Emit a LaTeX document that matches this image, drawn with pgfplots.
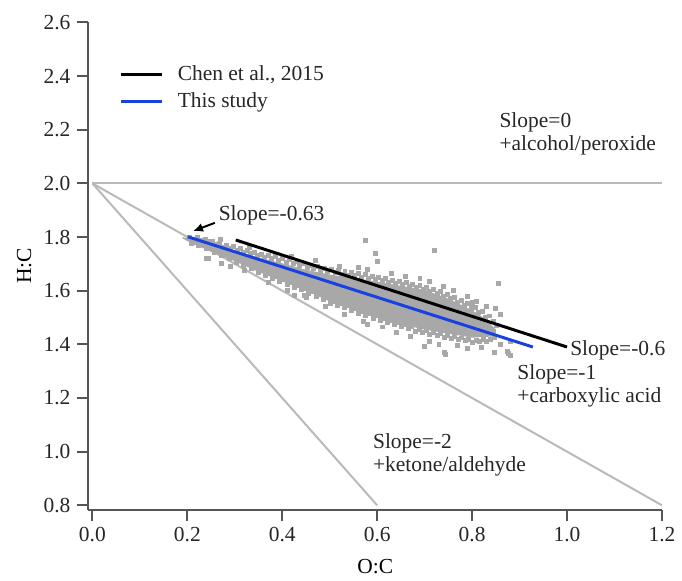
\documentclass[border=0pt]{standalone}
\usepackage{fontspec}
\setmainfont{Liberation Serif}
\usepackage{pgfplots}
\pgfplotsset{compat=1.18}
\usetikzlibrary{arrows.meta}

\definecolor{guide}{RGB}{185,185,185}
\definecolor{cloud}{RGB}{168,168,168}
\definecolor{studyblue}{RGB}{25,65,225}
\definecolor{axgray}{RGB}{85,85,85}

% dense core of the O:C - H:C cloud (outline)
\pgfplotstableread{
x y
0.190 1.800
0.250 1.772
0.300 1.746
0.350 1.724
0.400 1.702
0.450 1.678
0.500 1.660
0.550 1.648
0.600 1.633
0.650 1.618
0.700 1.603
0.750 1.570
0.800 1.527
0.830 1.492
0.850 1.455
0.850 1.430
0.800 1.425
0.750 1.440
0.700 1.455
0.650 1.475
0.600 1.500
0.550 1.530
0.500 1.560
0.450 1.600
0.400 1.635
0.350 1.670
0.300 1.710
0.250 1.745
0.200 1.785
0.190 1.795
}\coretab

% individual points
\pgfplotstableread{
x y
0.205 1.800
0.215 1.792
0.222 1.798
0.231 1.787
0.238 1.793
0.246 1.782
0.252 1.785
0.261 1.772
0.268 1.778
0.276 1.763
0.283 1.770
0.291 1.759
0.297 1.765
0.305 1.751
0.312 1.757
0.318 1.742
0.326 1.750
0.333 1.738
0.341 1.744
0.347 1.731
0.356 1.737
0.362 1.726
0.371 1.732
0.378 1.720
0.386 1.727
0.392 1.712
0.401 1.719
0.408 1.707
0.415 1.715
0.423 1.700
0.431 1.708
0.437 1.693
0.446 1.700
0.452 1.688
0.459 1.695
0.466 1.682
0.474 1.689
0.481 1.676
0.489 1.684
0.495 1.672
0.503 1.679
0.511 1.668
0.518 1.676
0.524 1.662
0.532 1.671
0.539 1.658
0.546 1.667
0.553 1.656
0.561 1.664
0.567 1.651
0.575 1.660
0.582 1.647
0.589 1.655
0.596 1.642
0.603 1.651
0.611 1.638
0.617 1.646
0.624 1.631
0.632 1.640
0.639 1.628
0.646 1.636
0.653 1.622
0.661 1.630
0.668 1.617
0.675 1.625
0.682 1.612
0.690 1.619
0.697 1.606
0.704 1.614
0.711 1.598
0.718 1.605
0.726 1.590
0.733 1.596
0.740 1.580
0.748 1.586
0.755 1.570
0.762 1.574
0.770 1.558
0.777 1.562
0.784 1.546
0.791 1.551
0.799 1.533
0.806 1.538
0.814 1.520
0.821 1.524
0.829 1.502
0.836 1.506
0.844 1.484
0.851 1.472
0.208 1.776
0.216 1.781
0.224 1.768
0.233 1.773
0.241 1.757
0.249 1.763
0.256 1.744
0.265 1.750
0.272 1.733
0.280 1.739
0.288 1.722
0.295 1.728
0.304 1.705
0.311 1.712
0.319 1.694
0.327 1.700
0.334 1.683
0.342 1.690
0.350 1.668
0.357 1.675
0.365 1.658
0.372 1.664
0.380 1.646
0.388 1.653
0.395 1.634
0.403 1.641
0.410 1.624
0.418 1.630
0.426 1.613
0.433 1.620
0.441 1.603
0.448 1.609
0.456 1.590
0.463 1.598
0.471 1.580
0.478 1.587
0.486 1.567
0.493 1.575
0.501 1.554
0.508 1.562
0.516 1.546
0.523 1.553
0.531 1.537
0.538 1.544
0.546 1.526
0.553 1.534
0.561 1.517
0.568 1.524
0.576 1.508
0.583 1.515
0.591 1.498
0.598 1.506
0.606 1.490
0.613 1.497
0.621 1.482
0.628 1.489
0.636 1.474
0.643 1.481
0.651 1.466
0.658 1.473
0.666 1.458
0.673 1.465
0.681 1.450
0.688 1.457
0.696 1.443
0.703 1.451
0.711 1.437
0.718 1.445
0.726 1.432
0.733 1.439
0.741 1.427
0.748 1.434
0.756 1.421
0.763 1.429
0.771 1.417
0.778 1.424
0.786 1.413
0.793 1.420
0.801 1.409
0.808 1.416
0.816 1.410
0.823 1.418
0.831 1.412
0.838 1.420
0.846 1.425
0.270 1.792
0.330 1.760
0.420 1.728
0.470 1.712
0.520 1.690
0.560 1.688
0.580 1.680
0.630 1.664
0.660 1.655
0.690 1.645
0.710 1.635
0.740 1.615
0.760 1.600
0.790 1.580
0.810 1.560
0.830 1.540
0.860 1.510
0.240 1.720
0.290 1.690
0.320 1.675
0.370 1.630
0.410 1.600
0.450 1.575
0.490 1.540
0.530 1.510
0.570 1.485
0.610 1.465
0.640 1.445
0.670 1.430
0.710 1.410
0.730 1.400
0.770 1.395
0.790 1.385
0.820 1.390
0.860 1.400
0.880 1.410
0.576 1.786
0.720 1.750
0.597 1.740
0.601 1.710
0.856 1.629
0.849 1.534
0.797 1.553
0.244 1.719
0.272 1.700
0.447 1.584
0.426 1.584
0.468 1.608
0.507 1.559
0.671 1.430
0.700 1.393
0.741 1.369
0.744 1.363
0.580 1.473
0.846 1.371
0.877 1.366
0.880 1.357
0.874 1.375
0.800 1.555
}\pointtab

\begin{document}
\begin{tikzpicture}[font=\fontsize{10.8}{11.5}\selectfont]
\begin{axis}[
    scale only axis,
    width=288.7pt, height=245.2pt,
    xmin=-0.0084, xmax=1.2,
    ymin=0.784, ymax=2.6,
    axis x line=bottom, axis y line=left,
    axis line style={-, draw=axgray, line width=1pt},
    xtick={0,0.2,...,1.2},
    ytick={0.8,1.0,...,2.6},
    tick align=outside,
    major tick length=5.5pt,
    tick style={draw=axgray, line width=1pt},
    minor tick num=0,
    /pgf/number format/.cd, fixed, fixed zerofill, precision=1, assume math mode=true,
    /pgfplots/.cd,
    ticklabel style={text=black!85},
    xlabel={O:C}, ylabel={H:C},
    xlabel style={at={(axis description cs:0.5,-0.117)}, anchor=center},
    ylabel style={at={(axis description cs:-0.112,0.5)}, anchor=center},
    legend style={at={(axis description cs:0.053,0.92)}, anchor=north west,
        draw=none, fill=none, inner sep=0pt, row sep=0.5pt,
        nodes={inner sep=2pt, text=black!85}},
    legend cell align=left,
    legend image code/.code={\draw[#1] (0pt,0pt) -- (21pt,0pt); \path (26pt,0pt);},
    clip=false,
    clip marker paths=true,
]
% reference slopes
\addplot[guide, line width=1pt, forget plot] coordinates {(0,2.0) (1.2,2.0)};
\addplot[guide, line width=1pt, forget plot] coordinates {(0,2.0) (1.2,0.8)};
\addplot[guide, line width=1pt, forget plot] coordinates {(0,2.0) (0.6,0.8)};
% data cloud
\addplot[fill=cloud, draw=none, forget plot] table {\coretab} -- cycle;
\addplot[only marks, mark=square*, mark size=1pt, cloud, forget plot] table {\pointtab};
% fits
\addplot[black, line width=1.5pt] coordinates {(0.302,1.789) (1.0,1.39)};
\addlegendentry{Chen et al., 2015}
\addplot[studyblue, line width=1.5pt] coordinates {(0.201,1.801) (0.928,1.39)};
\addlegendentry{This study}

\draw[black, line width=1pt, -{Latex[length=5pt,width=4.5pt]}] (axis cs:0.258,1.853) -- (axis cs:0.212,1.822);
\node[anchor=base west, inner sep=0pt, text=black!85] at (axis cs:0.2654,1.862) {Slope=-0.63};
\node[anchor=base west, inner sep=0pt, text=black!85] at (axis cs:1.006,1.359) {Slope=-0.6};
\node[anchor=base west, inner sep=0pt, align=left, text=black!85] at (axis cs:0.857,2.123) {Slope=0\\+alcohol/peroxide};
\node[anchor=base west, inner sep=0pt, align=left, text=black!85] at (axis cs:0.8947,1.184) {Slope=-1\\+carboxylic acid};
\node[anchor=base west, inner sep=0pt, align=left, text=black!85] at (axis cs:0.5905,0.927) {Slope=-2\\+ketone/aldehyde};
\end{axis}
\path ([shift={(-44.5pt,-34pt)}]current axis.south west) rectangle ([shift={(296.5pt,256.5pt)}]current axis.south west);
\end{tikzpicture}
\end{document}
